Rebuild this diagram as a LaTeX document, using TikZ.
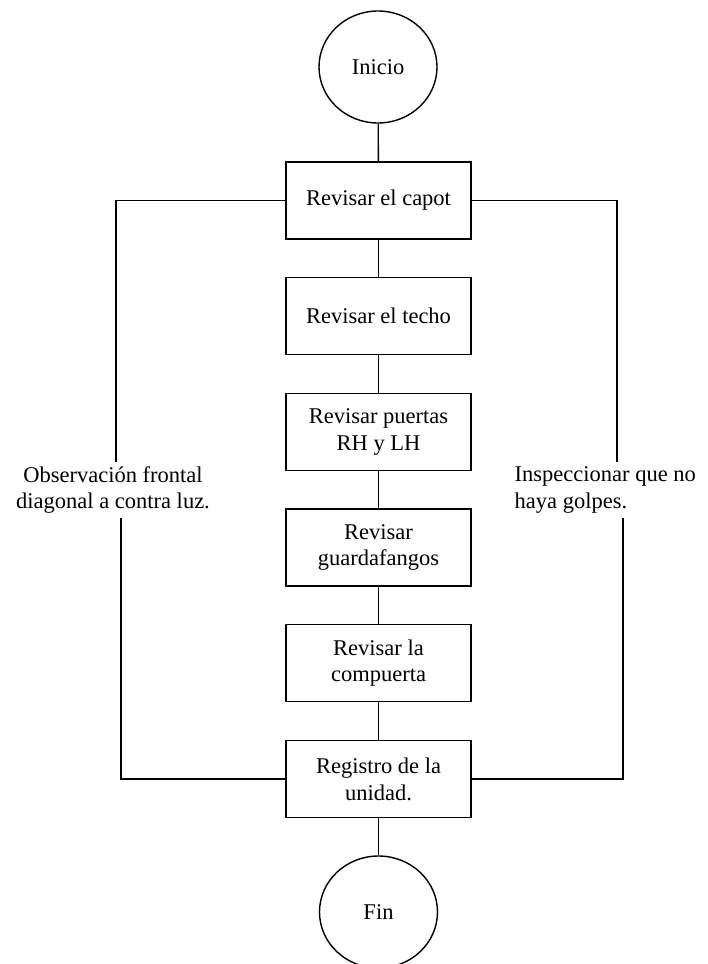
\documentclass[tikz,border=0pt]{standalone}
\usepackage{fontspec}
\setmainfont{Liberation Serif}
\usetikzlibrary{shapes.geometric}
\begin{document}
\begin{tikzpicture}[x=1pt,y=1pt,
  line width=1.4pt,
  every node/.style={font=\fontsize{22.5}{26.7}\selectfont},
  stepbox/.style={draw,minimum width=185pt,minimum height=77pt,inner sep=2pt,align=center},
  term/.style={draw,ellipse,minimum width=118pt,minimum height=112pt,inner sep=0pt},
  note/.style={inner sep=0pt}]
\useasboundingbox (0,0) rectangle (707,-964);
\node[term] (ini) at (378,-67) {Inicio};
\node[stepbox] (capot) at (378.5,-200.5) {Revisar el capot};
\node[stepbox] (techo) at (378.5,-316) {Revisar el techo};
\node[stepbox] (puertas) at (378.5,-432) {Revisar puertas\\RH y LH};
\node[stepbox] (guarda) at (378.5,-547.5) {Revisar\\guardafangos};
\node[stepbox] (comp) at (378.5,-663) {Revisar la\\compuerta};
\node[stepbox] (reg) at (378.5,-779) {Registro de la\\unidad.};
\node[term] (fin) at (378.5,-912) {Fin};
\node[note,align=center] (obs) at (113,-490) {Observación frontal\\diagonal a contra luz.};
\node[note,align=left,anchor=west] (insp) at (514,-490) {Inspeccionar que no\\haya golpes.};
\coordinate (ltop) at (116,-462);
\coordinate (lbot) at (121,-518);
\coordinate (rtop) at (617,-462);
\coordinate (rbot) at (623,-518);
\draw (ini) -- (capot);
\draw (capot) -- (techo);
\draw (techo) -- (puertas);
\draw (puertas) -- (guarda);
\draw (guarda) -- (comp);
\draw (comp) -- (reg);
\draw (reg) -- (fin);
\draw (capot.west) -| (ltop);
\draw (lbot) |- (reg.west);
\draw (capot.east) -| (rtop);
\draw (rbot) |- (reg.east);
\end{tikzpicture}
\end{document}
